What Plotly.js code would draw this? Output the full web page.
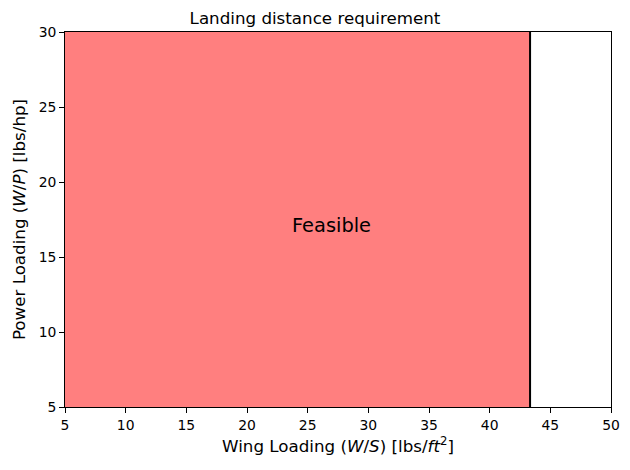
<!DOCTYPE html>
<html><head><meta charset="utf-8">
<script src="https://cdn.plot.ly/plotly-3.0.1.min.js"></script>
<style>body{margin:0;background:#fff}#c{width:630px;height:470px}</style>
</head><body><div id="c"></div>
<script>
const xLimits = [5, 50];
const yLimits = [5, 30];
const landingWS = 43.33;
const feasibleX = [5, landingWS, landingWS, 5];
const feasibleY = [5, 5, 30, 30];
const boundaryX = [landingWS, landingWS];
const boundaryY = [5, 30];
const xTicks = [5,10,15,20,25,30,35,40,45,50];
const yTicks = [5,10,15,20,25,30];
const labelPos = [27.0, 17.07];

const traces = [
  {x: feasibleX, y: feasibleY, type:'scatter', mode:'lines', fill:'toself',
   fillcolor:'rgba(255,0,0,0.5)', line:{width:0}, hoverinfo:'skip', showlegend:false},
  {x: boundaryX, y: boundaryY, type:'scatter', mode:'lines',
   line:{color:'black', width:2}, showlegend:false}
];
const F = 'DejaVu Sans';
const layout = {
  width:630, height:470,
  margin:{l:65, r:19, t:32, b:63},
  paper_bgcolor:'white', plot_bgcolor:'white',
  font: {family:F, size:13.9, color:'black'},
  title:{text:'Landing distance requirement', font:{family:F, size:16.7, color:'black'},
         x:0.5, xanchor:'center', y:1-(18/470), yanchor:'middle'},
  xaxis:{range:xLimits, tickvals:xTicks, ticks:'outside', ticklen:4.9, tickcolor:'black',
         showgrid:false, zeroline:false, showline:true, linecolor:'black', linewidth:1, mirror:true,
         tickfont:{family:F, size:13.9, color:'black'},
         title:{text:'Wing Loading (<i>W</i>/<i>S</i>) [lbs/<i>ft</i><sup>2</sup>]', font:{family:F, size:16.7, color:'black'}, standoff:8}},
  yaxis:{range:yLimits, tickvals:yTicks, ticks:'outside', ticklen:4.9, tickcolor:'black',
         showgrid:false, zeroline:false, showline:true, linecolor:'black', linewidth:1, mirror:true,
         tickfont:{family:F, size:13.9, color:'black'},
         title:{text:'Power Loading (<i>W</i>/<i>P</i>) [lbs/hp]', font:{family:F, size:16.7, color:'black'}, standoff:8}},
  annotations:[{x:labelPos[0], y:labelPos[1], xref:'x', yref:'y', text:'Feasible', showarrow:false,
                font:{family:F, size:19.4, color:'black'}, xanchor:'center', yanchor:'middle'}]
};
Plotly.newPlot('c', traces, layout, {staticPlot:true});
</script></body></html>
